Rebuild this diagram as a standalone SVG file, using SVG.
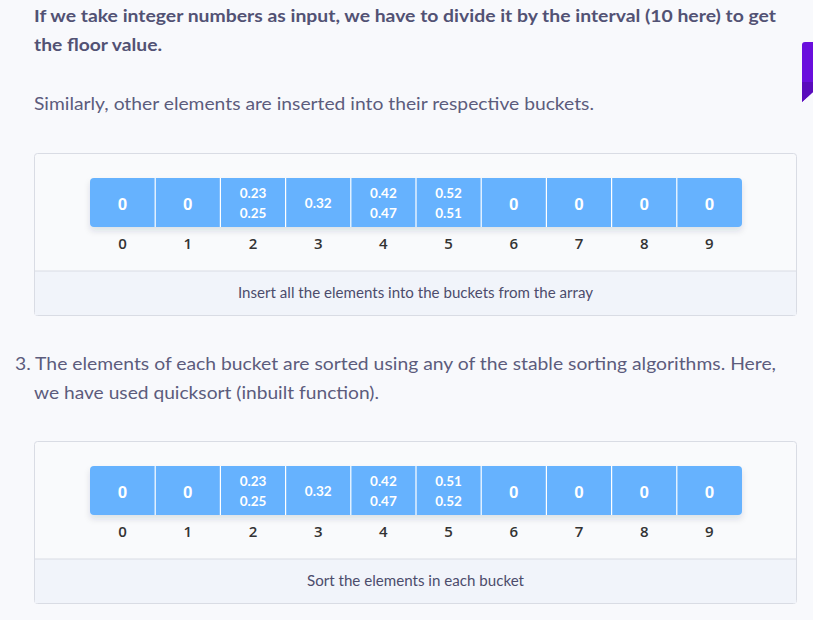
<svg xmlns="http://www.w3.org/2000/svg" width="813" height="620" viewBox="0 0 813 620">
<defs>
<style>
.bg{fill:#f8f9fc}
.box{fill:#f9fafc;stroke:#d9dce4;stroke-width:1}
.cap{fill:#f1f4fa}
.div{stroke:#d9dce4;stroke-width:1}
.cell{fill:#66b2fe}
.sep{stroke:#ffffff;stroke-width:1.2}
.h{font-family:Lato,"Open Sans",sans-serif;font-weight:700;font-size:17px;fill:#525274}
.p{font-family:Lato,"Open Sans",sans-serif;font-size:17px;fill:#5c5c7c}
.c{font-family:Lato,"Open Sans",sans-serif;font-size:14.5px;fill:#4c4c6c;text-anchor:middle}
.z{font-family:"Liberation Sans",Arial,sans-serif;font-weight:700;font-size:17px;fill:#ffffff;text-anchor:middle}
.v{font-family:Lato,"Open Sans",sans-serif;font-weight:700;font-size:13.5px;fill:#ffffff;text-anchor:middle}
.i{font-family:"Open Sans",Lato,sans-serif;font-weight:600;font-size:15px;fill:#333333;text-anchor:middle}
</style>
<filter id="sh" x="-5%" y="-30%" width="110%" height="180%">
<feDropShadow dx="0" dy="4" stdDeviation="3" flood-color="#1a2a50" flood-opacity="0.12"/>
</filter>
</defs>
<rect class="bg" x="0" y="0" width="813" height="620"/>
<g id="purple">
<path d="M805,42 H813 V92 L802,102 V45 Q802,42 805,42 Z" fill="#6a0fdd"/>
<path d="M802,82 H813 V92 L802,102 Z" fill="#5a0cbc"/>
</g>
<g id="text-top">
<text class="h" x="34" y="22" textLength="742" lengthAdjust="spacingAndGlyphs">If we take integer numbers as input, we have to divide it by the interval (10 here) to get</text>
<text class="h" x="34" y="51" textLength="128" lengthAdjust="spacingAndGlyphs">the floor value.</text>
<text class="p" x="34" y="110" textLength="560" lengthAdjust="spacingAndGlyphs">Similarly, other elements are inserted into their respective buckets.</text>
</g>
<g id="figure1">
<rect class="box" x="34.5" y="153.5" width="762" height="162" rx="3"/>
<rect class="cap" x="35" y="271" width="761" height="44"/>
<line class="div" x1="35" y1="271" x2="796" y2="271"/>
<text class="c" x="415.5" y="298" textLength="355" lengthAdjust="spacingAndGlyphs">Insert all the elements into the buckets from the array</text>
<g id="array1">
<rect class="cell" x="90" y="178" width="652" height="49" rx="4" filter="url(#sh)"/>
<g class="sep">
<line x1="155.2" y1="178" x2="155.2" y2="227"/><line x1="220.4" y1="178" x2="220.4" y2="227"/>
<line x1="285.6" y1="178" x2="285.6" y2="227"/><line x1="350.8" y1="178" x2="350.8" y2="227"/>
<line x1="416" y1="178" x2="416" y2="227"/><line x1="481.2" y1="178" x2="481.2" y2="227"/>
<line x1="546.4" y1="178" x2="546.4" y2="227"/><line x1="611.6" y1="178" x2="611.6" y2="227"/>
<line x1="676.8" y1="178" x2="676.8" y2="227"/>
</g>
<text class="z" x="122.6" y="209.5">0</text>
<text class="z" x="187.8" y="209.5">0</text>
<text class="v" x="253" y="197.5">0.23</text><text class="v" x="253" y="218">0.25</text>
<text class="v" x="318.2" y="208">0.32</text>
<text class="v" x="383.4" y="197.5">0.42</text><text class="v" x="383.4" y="218">0.47</text>
<text class="v" x="448.6" y="197.5">0.52</text><text class="v" x="448.6" y="218">0.51</text>
<text class="z" x="513.8" y="209.5">0</text>
<text class="z" x="579" y="209.5">0</text>
<text class="z" x="644.2" y="209.5">0</text>
<text class="z" x="709.4" y="209.5">0</text>
<text class="i" x="122.6" y="248.5">0</text><text class="i" x="187.8" y="248.5">1</text>
<text class="i" x="253" y="248.5">2</text><text class="i" x="318.2" y="248.5">3</text>
<text class="i" x="383.4" y="248.5">4</text><text class="i" x="448.6" y="248.5">5</text>
<text class="i" x="513.8" y="248.5">6</text><text class="i" x="579" y="248.5">7</text>
<text class="i" x="644.2" y="248.5">8</text><text class="i" x="709.4" y="248.5">9</text>
</g>
</g>
<g id="text-mid">
<text class="p" x="15" y="370" textLength="761" lengthAdjust="spacingAndGlyphs">3. The elements of each bucket are sorted using any of the stable sorting algorithms. Here,</text>
<text class="p" x="34" y="399" textLength="345" lengthAdjust="spacingAndGlyphs">we have used quicksort (inbuilt function).</text>
</g>
<g id="figure2">
<rect class="box" x="34.5" y="441.5" width="762" height="162" rx="3"/>
<rect class="cap" x="35" y="559" width="761" height="44"/>
<line class="div" x1="35" y1="559" x2="796" y2="559"/>
<text class="c" x="415.5" y="586" textLength="217" lengthAdjust="spacingAndGlyphs">Sort the elements in each bucket</text>
<g id="array2">
<rect class="cell" x="90" y="466" width="652" height="49" rx="4" filter="url(#sh)"/>
<g class="sep">
<line x1="155.2" y1="466" x2="155.2" y2="515"/><line x1="220.4" y1="466" x2="220.4" y2="515"/>
<line x1="285.6" y1="466" x2="285.6" y2="515"/><line x1="350.8" y1="466" x2="350.8" y2="515"/>
<line x1="416" y1="466" x2="416" y2="515"/><line x1="481.2" y1="466" x2="481.2" y2="515"/>
<line x1="546.4" y1="466" x2="546.4" y2="515"/><line x1="611.6" y1="466" x2="611.6" y2="515"/>
<line x1="676.8" y1="466" x2="676.8" y2="515"/>
</g>
<text class="z" x="122.6" y="497.5">0</text>
<text class="z" x="187.8" y="497.5">0</text>
<text class="v" x="253" y="485.5">0.23</text><text class="v" x="253" y="506">0.25</text>
<text class="v" x="318.2" y="496">0.32</text>
<text class="v" x="383.4" y="485.5">0.42</text><text class="v" x="383.4" y="506">0.47</text>
<text class="v" x="448.6" y="485.5">0.51</text><text class="v" x="448.6" y="506">0.52</text>
<text class="z" x="513.8" y="497.5">0</text>
<text class="z" x="579" y="497.5">0</text>
<text class="z" x="644.2" y="497.5">0</text>
<text class="z" x="709.4" y="497.5">0</text>
<text class="i" x="122.6" y="536.5">0</text><text class="i" x="187.8" y="536.5">1</text>
<text class="i" x="253" y="536.5">2</text><text class="i" x="318.2" y="536.5">3</text>
<text class="i" x="383.4" y="536.5">4</text><text class="i" x="448.6" y="536.5">5</text>
<text class="i" x="513.8" y="536.5">6</text><text class="i" x="579" y="536.5">7</text>
<text class="i" x="644.2" y="536.5">8</text><text class="i" x="709.4" y="536.5">9</text>
</g>
</g>
</svg>
